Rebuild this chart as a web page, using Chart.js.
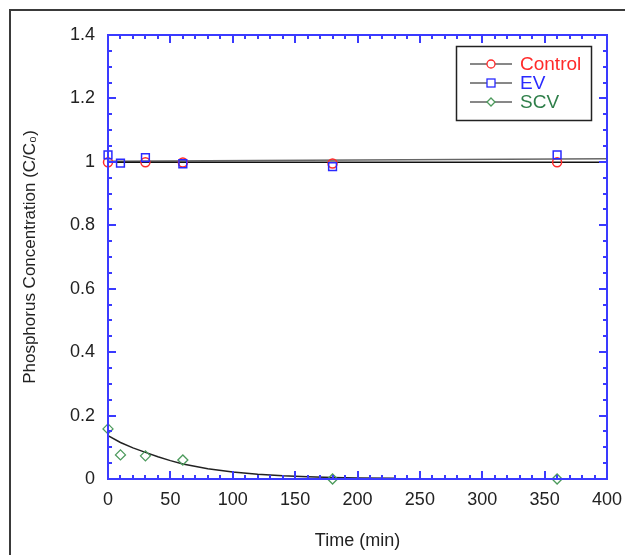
<!DOCTYPE html>
<html>
<head>
<meta charset="utf-8">
<script src="https://cdn.jsdelivr.net/npm/chart.js@4.4.1/dist/chart.umd.min.js"></script>
<style>
  html, body { margin: 0; padding: 0; background: #fff; }
  #wrap { width: 625px; height: 555px; position: relative; }
</style>
</head>
<body>
<div id="wrap"><canvas id="chart" width="625" height="555"></canvas></div>
<script>
// sampled times (min) and measured C/C0
const controlTime = [0, 30, 60, 180, 360];
const controlValues = [0.999, 0.999, 0.998, 0.995, 0.999];
const evTime = [0, 10, 30, 60, 180, 360];
const evValues = [1.022, 0.996, 1.013, 0.994, 0.985, 1.022];
const scvTime = [0, 10, 30, 60, 180, 360];
const scvValues = [0.158, 0.076, 0.073, 0.06, 0.0, 0.0];

// fitted curves
const controlFitTime = [0, 400];
const controlFitValues = [0.999, 0.999];
const evFitTime = [0, 400];
const evFitValues = [1.002, 1.01];
const scvFitTime = [0, 10, 20, 30, 40, 50, 60, 80, 100, 120, 140, 160, 180, 200, 230];
const scvFitValues = [0.137, 0.115, 0.098, 0.084, 0.07, 0.058, 0.047, 0.032, 0.022, 0.015, 0.01, 0.007, 0.005, 0.003, 0.002];

const xTicks = [0, 50, 100, 150, 200, 250, 300, 350, 400];
const yTicks = [0, 0.2, 0.4, 0.6, 0.8, 1, 1.2, 1.4];

const AXIS_BLUE = '#3a3aff';
const FONT = '"Liberation Sans", Arial, sans-serif';

function toPoints(xs, ys) {
    return xs.map((x, i) => ({ x: x, y: ys[i] }));
}

// ticks drawn inside the frame on all four sides
const frameTicks = {
    id: 'frameTicks',
    beforeDraw(chart) {
        const ctx = chart.ctx;
        // outer figure frame (left and top only)
        ctx.save();
        ctx.strokeStyle = '#3a3a3a';
        ctx.lineWidth = 2;
        ctx.beginPath();
        ctx.moveTo(10, 555);
        ctx.lineTo(10, 10);
        ctx.lineTo(625, 10);
        ctx.stroke();
        ctx.restore();
    },
    afterDatasetsDraw(chart) {
        const ctx = chart.ctx;
        const a = chart.chartArea;
        const xs = chart.scales.x, ys = chart.scales.y;
        ctx.save();
        ctx.strokeStyle = AXIS_BLUE;
        ctx.lineWidth = 2;
        ctx.strokeRect(a.left, a.top, a.right - a.left, a.bottom - a.top);
        ctx.beginPath();
        for (let t = 0; t <= 400; t += 10) {
            const px = Math.round(xs.getPixelForValue(t));
            const len = t % 50 === 0 ? 8 : 4;
            ctx.moveTo(px, a.bottom); ctx.lineTo(px, a.bottom - len);
            ctx.moveTo(px, a.top); ctx.lineTo(px, a.top + len);
        }
        for (let k = 0; k <= 28; k++) {
            const py = Math.round(ys.getPixelForValue(k * 0.05));
            const len = k % 4 === 0 ? 8 : 4;
            ctx.moveTo(a.left, py); ctx.lineTo(a.left + len, py);
            ctx.moveTo(a.right, py); ctx.lineTo(a.right - len, py);
        }
        ctx.stroke();
        ctx.restore();
    },
    afterDraw(chart) {
        // legend box inside the plot
        const ctx = chart.ctx;
        ctx.save();
        ctx.strokeStyle = '#222';
        ctx.lineWidth = 1.5;
        ctx.strokeRect(456.5, 46.5, 135, 74);
        const rows = [
            { label: 'Control', color: '#ff2a2a', marker: 'circle', y: 64 },
            { label: 'EV', color: '#2a2aff', marker: 'rect', y: 83 },
            { label: 'SCV', color: '#2f7f4a', marker: 'rectRot', y: 102 }
        ];
        const markerColors = { circle: '#ff2a2a', rect: '#2a2aff', rectRot: '#4c9a5c' };
        ctx.font = '19px ' + FONT;
        ctx.textBaseline = 'middle';
        rows.forEach(r => {
            ctx.strokeStyle = '#111';
            ctx.lineWidth = 1;
            ctx.beginPath();
            ctx.moveTo(470, r.y); ctx.lineTo(512, r.y);
            ctx.stroke();
            ctx.fillStyle = '#fff';
            ctx.strokeStyle = markerColors[r.marker];
            ctx.lineWidth = 1.3;
            if (r.marker === 'circle') {
                ctx.beginPath(); ctx.arc(491, r.y, 4, 0, Math.PI * 2); ctx.fill(); ctx.stroke();
            } else if (r.marker === 'rect') {
                ctx.fillRect(487, r.y - 4, 8, 8); ctx.strokeRect(487, r.y - 4, 8, 8);
            } else {
                ctx.beginPath();
                ctx.moveTo(491, r.y - 4); ctx.lineTo(495, r.y); ctx.lineTo(491, r.y + 4); ctx.lineTo(487, r.y);
                ctx.closePath(); ctx.fill(); ctx.stroke();
            }
            ctx.fillStyle = r.color;
            ctx.fillText(r.label, 520, r.y + 1);
        });
        ctx.restore();
    }
};

const ctx = document.getElementById('chart').getContext('2d');
new Chart(ctx, {
    type: 'scatter',
    data: {
        datasets: [
            {
                label: 'Control fit',
                data: toPoints(controlFitTime, controlFitValues),
                showLine: true, borderColor: '#111', borderWidth: 1.5,
                pointRadius: 0, order: 5
            },
            {
                label: 'EV fit',
                data: toPoints(evFitTime, evFitValues),
                showLine: true, borderColor: '#666', borderWidth: 1.5,
                pointRadius: 0, order: 6
            },
            {
                label: 'SCV fit',
                data: toPoints(scvFitTime, scvFitValues),
                showLine: true, borderColor: '#222', borderWidth: 1.5,
                pointRadius: 0, tension: 0, order: 4
            },
            {
                label: 'Control',
                data: toPoints(controlTime, controlValues),
                pointStyle: 'circle', pointRadius: 4.5,
                borderColor: '#ff2a2a', backgroundColor: 'rgba(0,0,0,0)',
                pointBorderWidth: 1.5, order: 2
            },
            {
                label: 'EV',
                data: toPoints(evTime, evValues),
                pointStyle: 'rect', pointRadius: 5.5,
                borderColor: '#2a2aff', backgroundColor: 'rgba(0,0,0,0)',
                pointBorderWidth: 1.5, order: 1
            },
            {
                label: 'SCV',
                data: toPoints(scvTime, scvValues),
                pointStyle: 'rectRot', pointRadius: 5,
                borderColor: '#4c9a5c', backgroundColor: 'rgba(0,0,0,0)',
                pointBorderWidth: 1.3, order: 3
            }
        ]
    },
    options: {
        responsive: false,
        animation: false,
        clip: false,
        layout: { padding: { top: 35, right: 18, left: 0, bottom: 0 } },
        plugins: {
            legend: { display: false },
            tooltip: { enabled: false }
        },
        scales: {
            x: {
                type: 'linear',
                min: 0, max: 400,
                afterFit(scale) { scale.height = 76; },
                afterBuildTicks(scale) { scale.ticks = xTicks.map(v => ({ value: v })); },
                grid: { display: false },
                border: { display: false },
                ticks: {
                    padding: 2,
                    color: '#222',
                    callback: v => String(v),
                    font: { family: FONT, size: 18 }
                },
                title: {
                    display: true,
                    text: 'Time (min)',
                    color: '#222',
                    padding: { top: 0, bottom: 3 },
                    font: { family: FONT, size: 18 }
                }
            },
            y: {
                min: 0, max: 1.4,
                afterFit(scale) { scale.width = 108; },
                afterBuildTicks(scale) { scale.ticks = yTicks.map(v => ({ value: v })); },
                grid: { display: false },
                border: { display: false },
                ticks: {
                    padding: 5,
                    color: '#222',
                    callback: v => String(v),
                    font: { family: FONT, size: 18 }
                },
                title: {
                    display: true,
                    text: 'Phosphorus Concentration (C/C\u2080)',
                    color: '#222',
                    padding: { top: 20, bottom: 0 },
                    font: { family: FONT, size: 17 }
                }
            }
        }
    },
    plugins: [frameTicks]
});
</script>
</body>
</html>
